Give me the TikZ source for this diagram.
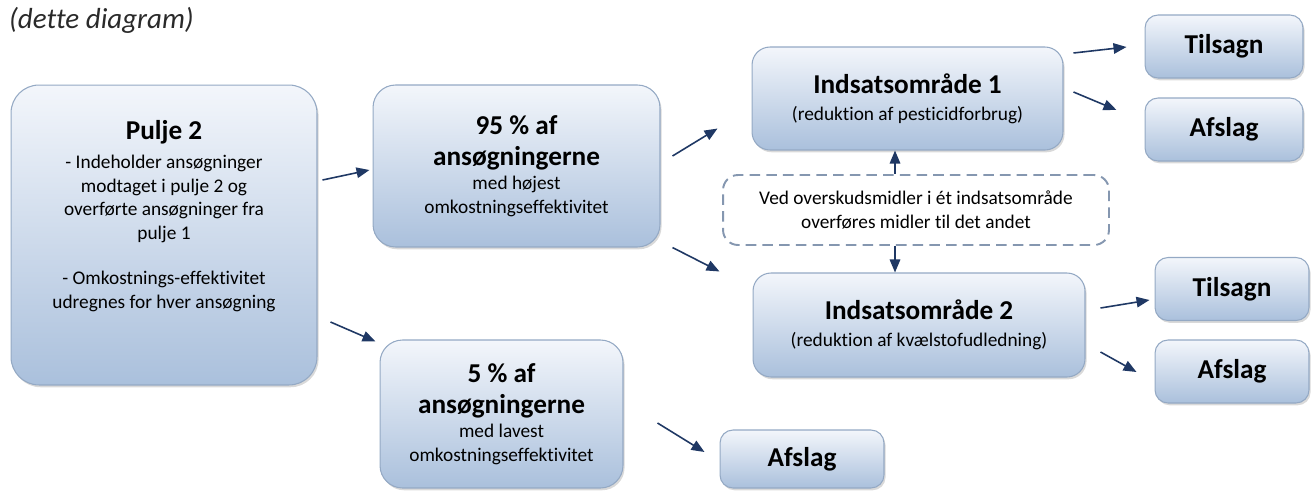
\documentclass[tikz,border=0pt]{standalone}
\usepackage{fontspec}
\setmainfont{Carlito}[Ligatures=NoCommon]
\usetikzlibrary{arrows.meta, positioning, calc, shadows}
\definecolor{boxtop}{HTML}{F3F6FB}
\definecolor{boxbottom}{HTML}{AAC0DC}
\definecolor{boxline}{HTML}{94A9C4}
\definecolor{arrownavy}{HTML}{1F3864}
\definecolor{dashgray}{HTML}{8597B0}
\definecolor{titlegray}{HTML}{2A2A2A}
\newcommand{\hdr}{\fontsize{15.5}{17}\selectfont\bfseries}
\newcommand{\txt}{\fontsize{11}{13.6}\selectfont}

\begin{document}
\begin{tikzpicture}[
  x=0.02cm, y=-0.02cm,
  box/.style={rectangle, rounded corners=0.45cm, draw=boxline, line width=0.6pt, top color=boxtop, bottom color=boxbottom, align=center, font=\txt, inner sep=2pt, drop shadow={shadow xshift=0.9pt, shadow yshift=-1.3pt, opacity=0.3}},
  smallbox/.style={box, rounded corners=0.26cm, minimum width=3.16cm, minimum height=1.26cm, font=\hdr},
  dashbox/.style={rectangle, rounded corners=0.3cm, draw=dashgray, line width=1.1pt, dash pattern=on 6pt off 3.5pt, fill=white, align=center, font=\txt, minimum width=7.72cm, minimum height=1.4cm},
  arr/.style={draw=arrownavy, line width=0.9pt, -{Triangle[length=0.26cm, width=0.21cm]}}
]
  \useasboundingbox (0,0) rectangle (1314,491);

  \node[anchor=west, font=\fontsize{16.5}{19}\selectfont\itshape, text=titlegray] (caption) at (3,20) {(dette diagram)};

  % left column
  \node[box, rounded corners=0.56cm, minimum width=6.12cm, minimum height=6cm] (pulje) at (164,235) {};
  \node[align=center, font=\txt] (puljetekst) at (164,216) {{\hdr Pulje 2}\\[3pt]- Indeholder ansøgninger\\modtaget i pulje 2 og\\overførte ansøgninger fra\\pulje 1\\[12pt]- Omkostnings-effektivitet\\udregnes for hver ansøgning};

  % split of the applications
  \node[box, minimum width=5.74cm, minimum height=3.24cm] (p95) at (516.5,166) {{\hdr 95 \% af}\\[4pt]{\hdr ansøgningerne}\\med højest\\omkostningseffektivitet};
  \node[box, minimum width=4.86cm, minimum height=2.96cm] (p5) at (501.5,414) {{\hdr 5 \% af}\\[4pt]{\hdr ansøgningerne}\\med lavest\\omkostningseffektivitet};

  % focus areas
  \node[box, rounded corners=0.36cm, minimum width=6.22cm, minimum height=2.06cm] (ind1) at (907.5,98.5) {{\hdr Indsatsområde 1}\\[2pt](reduktion af pesticidforbrug)};
  \node[dashbox] (overfoer) at (916,210) {Ved overskudsmidler i ét indsatsområde\\overføres midler til det andet};
  \node[box, rounded corners=0.36cm, minimum width=6.64cm, minimum height=2.08cm] (ind2) at (919,325) {{\hdr Indsatsområde 2}\\[2pt](reduktion af kvælstofudledning)};

  % outcomes
  \node[smallbox] (tilsagn1) at (1224,46.5) {Tilsagn};
  \node[smallbox] (afslag1) at (1224,129.5) {Afslag};
  \node[smallbox, minimum width=3.08cm] (tilsagn2) at (1232,289) {Tilsagn};
  \node[smallbox, minimum width=3.08cm] (afslag2) at (1232,371.5) {Afslag};
  \node[smallbox, minimum width=3.28cm, minimum height=1.16cm] (afslag3) at (802,459) {Afslag};

  % arrows
  \draw[arr] ($(pulje.east)+(5,-55)$) -- ($(p95.west)+(-3,4)$);
  \draw[arr] ($(pulje.east)+(13,87)$) -- ($(p5.north west)+(-4,2)$);
  \draw[arr] ($(p95.east)+(12,-10)$) -- ($(ind1.south west)+(-34,-22)$);
  \draw[arr] ($(p95.south east)+(12,0)$) -- ($(ind2.north west)+(-33,-1)$);
  \draw[arr] ($(p5.east)+(34,9)$) -- ($(afslag3.west)+(-15,-7)$);
  \draw[arr] ($(ind1.east)+(10,-45.5)$) -- ($(tilsagn1.west)+(-18,0.5)$);
  \draw[arr] ($(ind1.east)+(10,-6.5)$) -- ($(afslag1.west)+(-28,-19.5)$);
  \draw[arr] ($(ind2.east)+(15,-17)$) -- ($(tilsagn2.west)+(-5,11)$);
  \draw[arr] ($(ind2.east)+(15,27)$) -- ($(afslag2.west)+(-18,0.5)$);
  \draw[arr] ($(overfoer.north)+(-21,0)$) -- ($(ind1.south)+(-12.5,0)$);
  \draw[arr] ($(overfoer.south)+(-21,0)$) -- ($(ind2.north)+(-24,0)$);
\end{tikzpicture}
\end{document}
